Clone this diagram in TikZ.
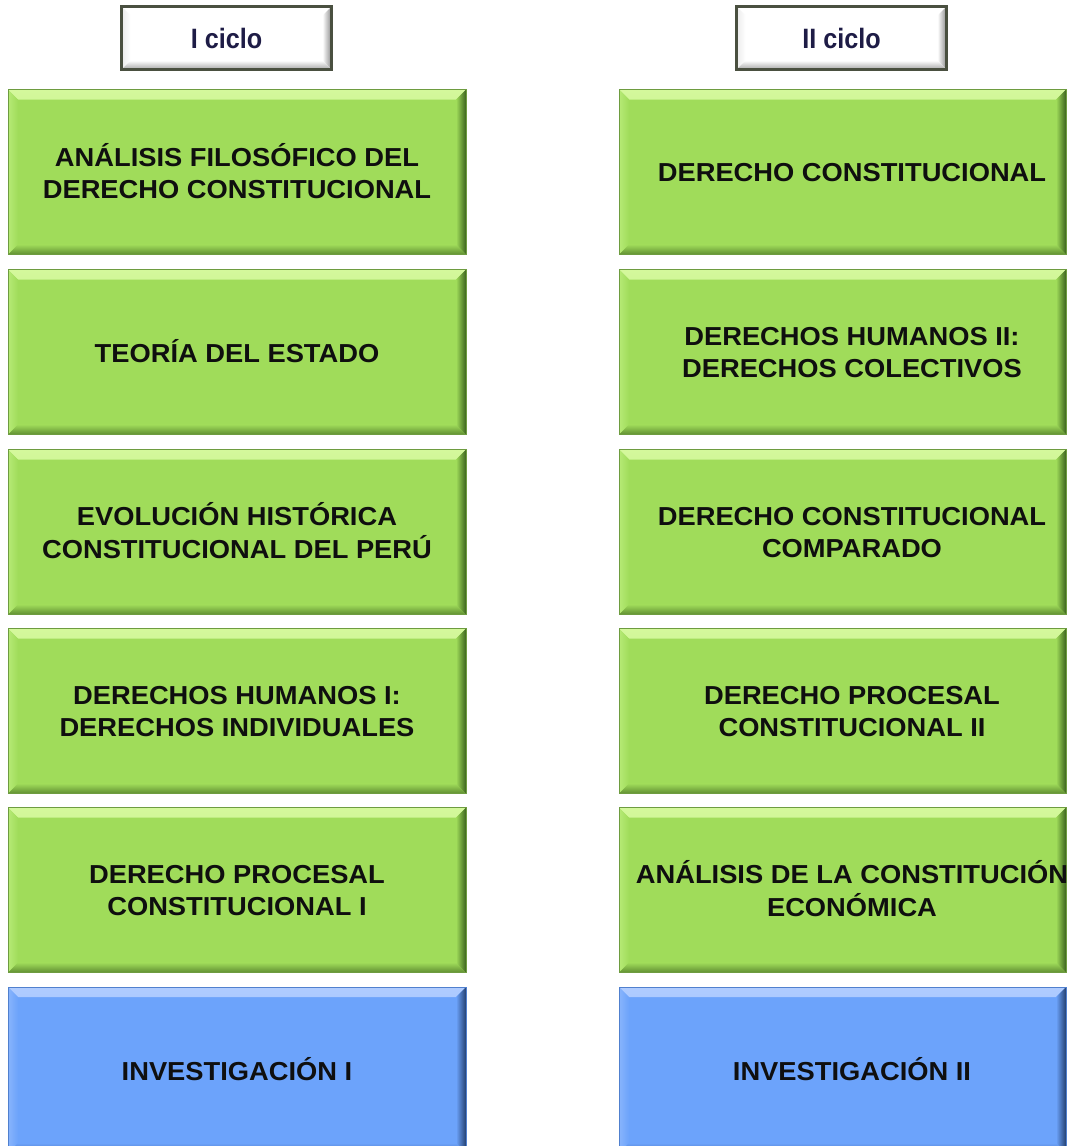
\documentclass[tikz,border=0pt]{standalone}
\usepackage{fontspec}
\setmainfont{Liberation Sans}
\newfontfamily\bodyfont[FakeStretch=1.05]{Liberation Sans Bold}
\newfontfamily\headfont[FakeStretch=0.9]{Liberation Sans Bold}
\definecolor{gbase}{RGB}{160,220,90}
\definecolor{gtop}{RGB}{212,248,156}
\definecolor{gleft}{RGB}{182,234,118}
\definecolor{gright}{RGB}{60,100,30}
\definecolor{gbot}{RGB}{96,142,50}
\definecolor{gline}{RGB}{110,156,64}
\definecolor{bbase}{RGB}{108,163,251}
\definecolor{btop}{RGB}{176,204,255}
\definecolor{bleft}{RGB}{136,180,252}
\definecolor{bright}{RGB}{36,64,112}
\definecolor{bbot}{RGB}{74,114,184}
\definecolor{bline}{RGB}{80,128,206}
\definecolor{hline}{RGB}{74,80,64}
\definecolor{htext}{RGB}{30,28,70}
\definecolor{txt}{RGB}{15,15,15}
\newcommand\bevel[6]{%
 \shade[top color=#2,bottom color=#6] (path picture bounding box.north west) -- (path picture bounding box.north east) -- ([shift={(-#1,-#1)}]path picture bounding box.north east) -- ([shift={(#1,-#1)}]path picture bounding box.north west) -- cycle;
 \shade[left color=#3,right color=#6] (path picture bounding box.north west) -- ([shift={(#1,-#1)}]path picture bounding box.north west) -- ([shift={(#1,#1)}]path picture bounding box.south west) -- (path picture bounding box.south west) -- cycle;
 \shade[left color=#6,right color=#4] (path picture bounding box.north east) -- (path picture bounding box.south east) -- ([shift={(-#1,#1)}]path picture bounding box.south east) -- ([shift={(-#1,-#1)}]path picture bounding box.north east) -- cycle;
 \shade[top color=#6,bottom color=#5] (path picture bounding box.south west) -- ([shift={(#1,#1)}]path picture bounding box.south west) -- ([shift={(-#1,#1)}]path picture bounding box.south east) -- (path picture bounding box.south east) -- cycle;
}
\newcommand\lines[1]{\makebox[200pt]{\raisebox{-3.3pt}[\height][\depth]{\begin{tabular}{@{}c@{}}#1\end{tabular}}}}
\newcommand\rlines[1]{\makebox[200pt]{\hspace*{19pt}\raisebox{-3.3pt}[\height][\depth]{\begin{tabular}{@{}c@{}}#1\end{tabular}}}}
\begin{document}
\begin{tikzpicture}[x=1pt,y=-1pt,
  card/.style={rectangle,inner sep=0pt,minimum height=165pt,text=txt,
    font=\bodyfont\fontsize{26}{32}\selectfont},
  lcol/.style={minimum width=458pt},
  rcol/.style={minimum width=447pt},
  greenbox/.style={card,fill=gbase,draw=gline,line width=0.8pt,
    path picture={\bevel{10pt}{gtop}{gleft}{gright}{gbot}{gbase}}},
  bluebox/.style={card,fill=bbase,draw=bline,line width=0.8pt,
    path picture={\bevel{10pt}{btop}{bleft}{bright}{bbot}{bbase}}},
  headbox/.style={rectangle,inner sep=0pt,minimum width=210pt,minimum height=63pt,
    fill=white,draw=hline,line width=3pt,text=htext,
    font=\headfont\fontsize{28}{30}\selectfont,
    path picture={\bevel{9pt}{white}{white!92!black}{black!45}{black!35}{white}}}]
\useasboundingbox (0,0) rectangle (1068,1146);
\clip (0,0) rectangle (1068,1146);
% headers
\node[headbox] (h1) at (226.5,38) {I ciclo};
\node[headbox] (h2) at (841.5,38) {II ciclo};
% left column
\node[greenbox,lcol] (l1) at (237,172) {\lines{ANÁLISIS FILOSÓFICO DEL\\DERECHO CONSTITUCIONAL}};
\node[greenbox,lcol] (l2) at (237,352) {\lines{TEORÍA DEL ESTADO}};
\node[greenbox,lcol] (l3) at (237,532) {\lines{EVOLUCIÓN HISTÓRICA\\CONSTITUCIONAL DEL PERÚ}};
\node[greenbox,lcol] (l4) at (237,711) {\lines{DERECHOS HUMANOS I:\\DERECHOS INDIVIDUALES}};
\node[greenbox,lcol] (l5) at (237,890) {\lines{DERECHO PROCESAL\\CONSTITUCIONAL I}};
\node[bluebox,lcol,minimum height=166pt] (l6) at (237,1070) {\lines{INVESTIGACIÓN I}};
% right column
\node[greenbox,rcol] (r1) at (842.5,172) {\rlines{DERECHO CONSTITUCIONAL}};
\node[greenbox,rcol] (r2) at (842.5,352) {\rlines{DERECHOS HUMANOS II:\\DERECHOS COLECTIVOS}};
\node[greenbox,rcol] (r3) at (842.5,532) {\rlines{DERECHO CONSTITUCIONAL\\COMPARADO}};
\node[greenbox,rcol] (r4) at (842.5,711) {\rlines{DERECHO PROCESAL\\CONSTITUCIONAL II}};
\node[greenbox,rcol] (r5) at (842.5,890) {\rlines{ANÁLISIS DE LA CONSTITUCIÓN\\ECONÓMICA}};
\node[bluebox,rcol,minimum height=166pt] (r6) at (842.5,1070) {\rlines{INVESTIGACIÓN II}};
\end{tikzpicture}
\end{document}
